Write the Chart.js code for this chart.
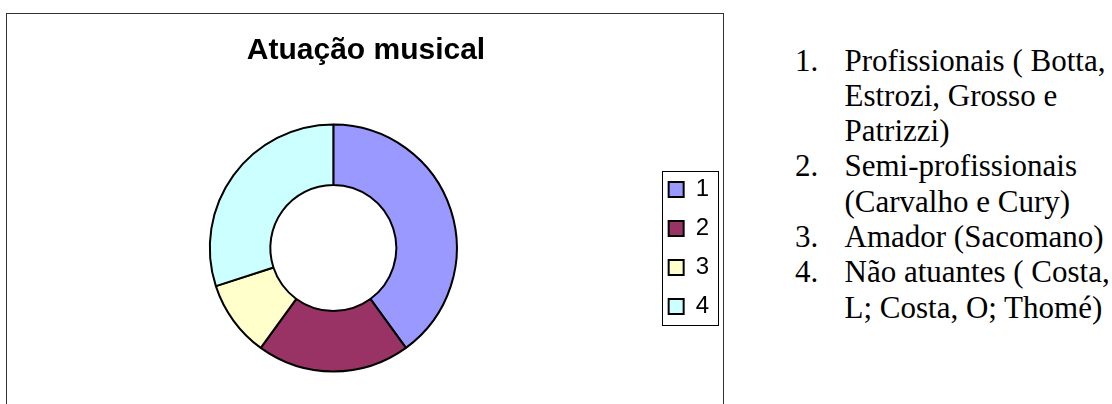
<!DOCTYPE html>
<html>
<head>
<meta charset="utf-8">
<title>Atuação musical</title>
<script src="https://cdn.jsdelivr.net/npm/chart.js@4/dist/chart.umd.min.js"></script>
<style>
  html, body {
    margin: 0;
    padding: 0;
    background: #fff;
    width: 1112px;
    height: 404px;
    overflow: hidden;
  }
  #chartBox {
    position: absolute;
    left: 6px;
    top: 13px;
    width: 716px;
    height: 460px;
    border: 1px solid #333;
  }
  #chartBox canvas {
    position: absolute;
    left: 0;
    top: 0;
  }
  #grupos {
    position: absolute;
    left: 795px;
    top: 42.6px;
    font-family: "Liberation Serif", "Times New Roman", serif;
    font-size: 31px;
    line-height: 35.3px;
    color: #000;
  }
  .item {
    display: flex;
  }
  .num {
    width: 49.5px;
    flex: none;
  }
</style>
</head>
<body>
<div id="chartBox"><canvas id="atuacao" width="716" height="390"></canvas></div>
<div id="grupos"></div>

<script>
var categorias = ["1", "2", "3", "4"];
var musicos = [4, 2, 1, 3];
var cores = ["#9999FF", "#993366", "#FFFFCC", "#CCFFFF"];
var descricoes = [
  ["Profissionais ( Botta,", "Estrozi, Grosso e", "Patrizzi)"],
  ["Semi-profissionais", "(Carvalho e Cury)"],
  ["Amador (Sacomano)"],
  ["Não atuantes ( Costa,", "L; Costa, O; Thomé)"]
];

// lista numerada do lado direito
var lista = document.getElementById("grupos");
for (var i = 0; i < descricoes.length; i++) {
  var item = document.createElement("div");
  item.className = "item";
  var num = document.createElement("span");
  num.className = "num";
  num.textContent = (i + 1) + ".";
  var txt = document.createElement("span");
  txt.innerHTML = descricoes[i].join("<br>");
  item.appendChild(num);
  item.appendChild(txt);
  lista.appendChild(item);
}

// moldura em volta da legenda
var legendFrame = {
  id: "legendFrame",
  afterDraw: function(chart) {
    var boxes = chart.legend.legendHitBoxes;
    if (!boxes || !boxes.length) return;
    var l = boxes[0].left, t = boxes[0].top, r = 0, b = 0;
    boxes.forEach(function(h) {
      l = Math.min(l, h.left);
      t = Math.min(t, h.top);
      r = Math.max(r, h.left + h.width);
      b = Math.max(b, h.top + h.height);
    });
    var x0 = Math.round(l - 6.5), y0 = Math.round(t - 7);
    var x1 = Math.round(r + 9), y1 = Math.round(b + 6);
    var ctx = chart.ctx;
    ctx.save();
    ctx.strokeStyle = "#000";
    ctx.lineWidth = 1;
    ctx.strokeRect(x0 + 0.5, y0 + 0.5, x1 - x0, y1 - y0);
    ctx.restore();
  }
};

Chart.defaults.font.family = "'Liberation Sans', Arial, sans-serif";
Chart.defaults.color = "#000";

new Chart(document.getElementById("atuacao"), {
  type: "doughnut",
  data: {
    labels: categorias,
    datasets: [{
      data: musicos,
      backgroundColor: cores,
      borderColor: "#000",
      borderWidth: 2
    }]
  },
  options: {
    responsive: false,
    animation: false,
    cutout: "51%",
    layout: {
      padding: { left: 6, right: 4, top: 0, bottom: 31.5 }
    },
    plugins: {
      title: {
        display: true,
        text: "Atuação musical",
        font: { size: 30, weight: "bold" },
        color: "#000",
        padding: { top: 18.6, bottom: 54.9 }
      },
      legend: {
        position: "right",
        fullSize: false,
        labels: {
          font: { size: 24 },
          color: "#000",
          boxWidth: 15,
          boxHeight: 15,
          padding: 15
        }
      },
      tooltip: { enabled: false }
    }
  },
  plugins: [legendFrame]
});
</script>
</body>
</html>
